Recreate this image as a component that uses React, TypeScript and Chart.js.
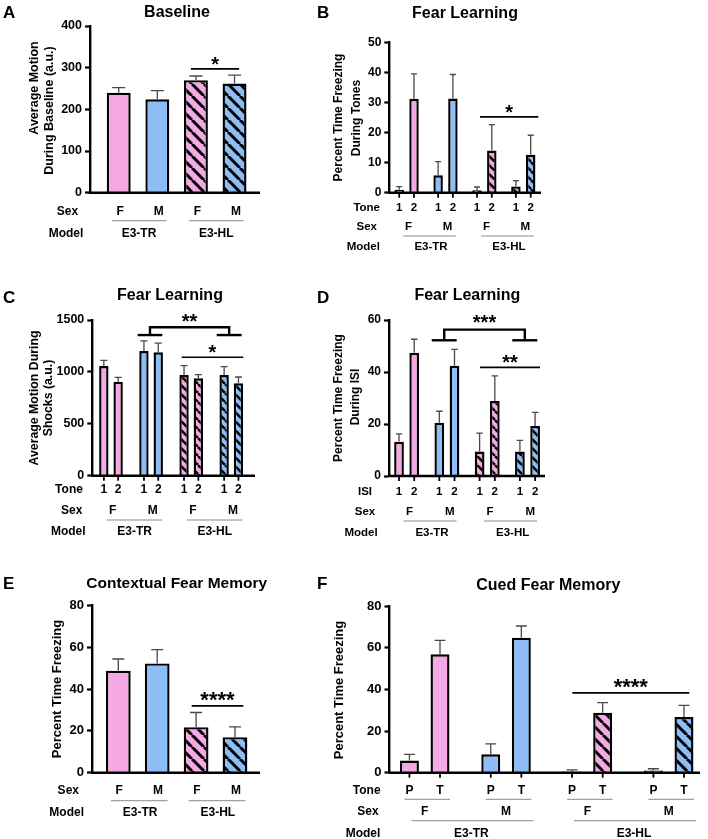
import React, { useEffect, useRef } from "react";
import { Chart, registerables } from "chart.js";
Chart.register(...registerables);

const FONT = '"Liberation Sans", Arial, Helvetica, sans-serif';
const PINK = "#F4A9E4";
const BLUE = "#8DBDF5";
const ERR = "#4a4a4a";
const RULE = "#8a8a8a";

// ---------- categories / labels ----------
const sexLabels = ["F", "M", "F", "M"];
const modelLabels = ["E3-TR", "E3-HL"];
const toneLabels = ["1", "2"];
const isiLabels = ["1", "2"];
const cueLabels = ["P", "T"];

// ---------- A: baseline motion ----------
const baselineMean = [240, 224, 270, 262];
const baselineSem = [12, 21, 10, 20];

// ---------- B: freezing during tones ----------
const toneFreeze1Mean = [1.0, 5.8, 0.8, 2.1];
const toneFreeze1Sem = [1.0, 4.5, 1.1, 1.9];
const toneFreeze2Mean = [31.2, 31.3, 14.0, 12.6];
const toneFreeze2Sem = [8.3, 8.0, 8.6, 6.5];

// ---------- C: motion during shocks ----------
const shockMotion1Mean = [1057, 1201, 970, 970];
const shockMotion1Sem = [54, 97, 90, 80];
const shockMotion2Mean = [906, 1189, 938, 890];
const shockMotion2Sem = [42, 89, 35, 61];

// ---------- D: freezing during ISI ----------
const isiFreeze1Mean = [13.2, 20.5, 9.4, 9.4];
const isiFreeze1Sem = [3.0, 4.4, 7.1, 4.3];
const isiFreeze2Mean = [47.4, 42.4, 28.8, 19.2];
const isiFreeze2Sem = [5.2, 6.3, 9.7, 5.3];

// ---------- E: contextual fear memory ----------
const contextMean = [48.8, 52.3, 21.8, 17.0];
const contextSem = [5.6, 6.6, 7.0, 4.9];

// ---------- F: cued fear memory ----------
const cuedPreMean = [5.8, 8.8, 0.6, 1.0];
const cuedPreSem = [3.0, 5.0, 0.8, 0.9];
const cuedToneMean = [56.8, 64.8, 28.8, 26.7];
const cuedToneSem = [6.7, 5.6, 4.8, 5.6];

type Box = { x: number; y: number; w: number; h: number };
type Series = { name: string; mean: number[]; sem: number[] };
type Sig =
  | { kind: "line"; x1: number; x2: number; y: number; text: string; size: number; gap: number; lw: number }
  | {
      kind: "bracket";
      a1: number; a2: number; b1: number; b2: number;
      y1: number; y2: number; text: string; size: number; gap: number; lw: number;
    };

type Spec = {
  box: Box;
  area: { l: number; t: number; r: number; b: number };
  xMin: number; xMax: number;
  yMax: number; yStep: number;
  series: Series[];
  cp: number; bp: number;
  hatch: number; hatchW: number;
  cap: number;
  letter: { text: string; x: number; y: number };
  title: { text: string; x: number; y: number; size: number };
  yTitle: { lines: string[]; xs: number[]; ys: number[]; size: number };
  tickSize: number;
  tableSize: number;
  xTicks: boolean;
  barRow?: { labels: string[]; dy: number };
  groupLine?: { dy: number; l0: number; l1: number };
  sexRow: { dy: number; dx: number };
  modelLine: { dy: number; l0: number; l1: number };
  modelRow: { dy: number; dx: number };
  headers: { text: string; x: number; dy: number }[];
  sigs: Sig[];
};

const panels: Spec[] = [
  {
    box: { x: 0, y: 0, w: 315, h: 285 },
    area: { l: 90, t: 26, r: 260, b: 192.7 },
    xMin: -0.744, xMax: 3.66, yMax: 400, yStep: 100,
    series: [{ name: "Baseline", mean: baselineMean, sem: baselineSem }],
    cp: 1, bp: 0.62, hatch: 12, hatchW: 3, cap: 13,
    letter: { text: "A", x: 3, y: 18.3 },
    title: { text: "Baseline", x: 177, y: 17, size: 16 },
    yTitle: { lines: ["Average Motion", "During Baseline (a.u.)"], xs: [34, 49], ys: [88, 110.5], size: 12.5 },
    tickSize: 12.5, tableSize: 12, xTicks: false,
    sexRow: { dy: 18, dx: 1.5 },
    modelLine: { dy: 28, l0: -7, l1: 9 },
    modelRow: { dy: 39.6, dx: 0 },
    headers: [{ text: "Sex", x: 67.5, dy: 18 }, { text: "Model", x: 66, dy: 39.6 }],
    sigs: [{ kind: "line", x1: 1.87, x2: 3.12, y: 297, text: "*", size: 20, gap: 9, lw: 1.7 }],
  },
  {
    box: { x: 315, y: 0, w: 393, h: 285 },
    area: { l: 389.3, t: 42.3, r: 541, b: 192.7 },
    xMin: -0.445, xMax: 3.455, yMax: 50, yStep: 10,
    series: [
      { name: "Tone 1", mean: toneFreeze1Mean, sem: toneFreeze1Sem },
      { name: "Tone 2", mean: toneFreeze2Mean, sem: toneFreeze2Sem },
    ],
    cp: 0.761, bp: 0.64, hatch: 9, hatchW: 2.5, cap: 6,
    letter: { text: "B", x: 317, y: 18.3 },
    title: { text: "Fear Learning", x: 465, y: 18, size: 16 },
    yTitle: { lines: ["Percent Time Freezing", "During Tones"], xs: [338, 356], ys: [117.5, 118], size: 12 },
    tickSize: 12, tableSize: 11.5, xTicks: true,
    barRow: { labels: toneLabels, dy: 14 },
    sexRow: { dy: 33.3, dx: 2 },
    modelLine: { dy: 43.3, l0: 4, l1: 3 },
    modelRow: { dy: 53.3, dx: 1.5 },
    headers: [
      { text: "Tone", x: 366.7, dy: 14 },
      { text: "Sex", x: 366.7, dy: 33.3 },
      { text: "Model", x: 363.3, dy: 53.3 },
    ],
    sigs: [{ kind: "line", x1: 1.887, x2: 3.386, y: 25.2, text: "*", size: 20, gap: 9.6, lw: 1.7 }],
  },
  {
    box: { x: 0, y: 285, w: 315, h: 270 },
    area: { l: 92.3, t: 320, r: 255, b: 475.7 },
    xMin: -0.466, xMax: 3.591, yMax: 1500, yStep: 500,
    series: [
      { name: "Tone 1", mean: shockMotion1Mean, sem: shockMotion1Sem },
      { name: "Tone 2", mean: shockMotion2Mean, sem: shockMotion2Sem },
    ],
    cp: 0.713, bp: 0.657, hatch: 9, hatchW: 2.5, cap: 7,
    letter: { text: "C", x: 3, y: 303.3 },
    title: { text: "Fear Learning", x: 170, y: 300, size: 16 },
    yTitle: { lines: ["Average Motion During", "Shocks (a.u.)"], xs: [34, 48], ys: [398, 398], size: 12.3 },
    tickSize: 12.5, tableSize: 12, xTicks: true,
    barRow: { labels: toneLabels, dy: 13.3 },
    sexRow: { dy: 34.3, dx: 1.7 },
    modelLine: { dy: 44.3, l0: 3, l1: 4 },
    modelRow: { dy: 55.3, dx: 0 },
    headers: [
      { text: "Tone", x: 69, dy: 13.3 },
      { text: "Sex", x: 71.7, dy: 34.3 },
      { text: "Model", x: 68.3, dy: 55.3 },
    ],
    sigs: [
      { kind: "bracket", a1: 0.666, a2: 1.279, b1: 2.636, b2: 3.259, y1: 1355, y2: 1430, text: "**", size: 20, gap: 10.6, lw: 2.4 },
      { kind: "line", x1: 1.763, x2: 3.299, y: 1141, text: "*", size: 20, gap: 9.3, lw: 1.7 },
    ],
  },
  {
    box: { x: 315, y: 285, w: 393, h: 270 },
    area: { l: 389, t: 320, r: 545, b: 476 },
    xMin: -0.437, xMax: 3.434, yMax: 60, yStep: 20,
    series: [
      { name: "ISI 1", mean: isiFreeze1Mean, sem: isiFreeze1Sem },
      { name: "ISI 2", mean: isiFreeze2Mean, sem: isiFreeze2Sem },
    ],
    cp: 0.754, bp: 0.64, hatch: 9, hatchW: 2.5, cap: 6.5,
    letter: { text: "D", x: 317, y: 303.3 },
    title: { text: "Fear Learning", x: 467.3, y: 300, size: 16 },
    yTitle: { lines: ["Percent Time Freezing", "During ISI"], xs: [338, 355], ys: [398, 397], size: 12 },
    tickSize: 12, tableSize: 11.5, xTicks: true,
    barRow: { labels: isiLabels, dy: 15 },
    sexRow: { dy: 35, dx: 2.8 },
    modelLine: { dy: 45, l0: 4.5, l1: 2 },
    modelRow: { dy: 55.7, dx: 2 },
    headers: [
      { text: "ISI", x: 365, dy: 15 },
      { text: "Sex", x: 365, dy: 35 },
      { text: "Model", x: 361, dy: 55.7 },
    ],
    sigs: [
      { kind: "bracket", a1: 0.623, a2: 1.243, b1: 2.623, b2: 3.243, y1: 52.2, y2: 56.3, text: "***", size: 20, gap: 11.7, lw: 2.4 },
      { kind: "line", x1: 1.821, x2: 3.31, y: 41.8, text: "**", size: 20, gap: 9.6, lw: 1.7 },
    ],
  },
  {
    box: { x: 0, y: 555, w: 315, h: 284 },
    area: { l: 92, t: 605.5, r: 260, b: 772.7 },
    xMin: -0.676, xMax: 3.643, yMax: 80, yStep: 20,
    series: [{ name: "Context", mean: contextMean, sem: contextSem }],
    cp: 1, bp: 0.637, hatch: 12, hatchW: 3, cap: 12,
    letter: { text: "E", x: 3, y: 589 },
    title: { text: "Contextual Fear Memory", x: 176.7, y: 588, size: 15.5 },
    yTitle: { lines: ["Percent Time Freezing"], xs: [56.7], ys: [689], size: 13 },
    tickSize: 13, tableSize: 12, xTicks: false,
    sexRow: { dy: 17.3, dx: 0.9 },
    modelLine: { dy: 28, l0: -7.4, l1: 10.4 },
    modelRow: { dy: 39, dx: 0.8 },
    headers: [{ text: "Sex", x: 68.3, dy: 17.3 }, { text: "Model", x: 66.7, dy: 39 }],
    sigs: [{ kind: "line", x1: 1.887, x2: 3.213, y: 32.0, text: "****", size: 22, gap: 11, lw: 1.7 }],
  },
  {
    box: { x: 315, y: 555, w: 393, h: 284 },
    area: { l: 389.5, t: 606, r: 700, b: 772.7 },
    xMin: -0.433, xMax: 3.385, yMax: 80, yStep: 20,
    series: [
      { name: "Pre-tone", mean: cuedPreMean, sem: cuedPreSem },
      { name: "Tone", mean: cuedToneMean, sem: cuedToneSem },
    ],
    cp: 0.752, bp: 0.62, hatch: 12, hatchW: 3, cap: 11,
    letter: { text: "F", x: 317, y: 589 },
    title: { text: "Cued Fear Memory", x: 548.3, y: 590, size: 16 },
    yTitle: { lines: ["Percent Time Freezing"], xs: [338], ys: [690], size: 13 },
    tickSize: 13, tableSize: 12, xTicks: true,
    barRow: { labels: cueLabels, dy: 16.6 },
    groupLine: { dy: 26.6, l0: -5, l1: 10 },
    sexRow: { dy: 38, dx: 0 },
    modelLine: { dy: 48, l0: 2, l1: 12 },
    modelRow: { dy: 60, dx: -1 },
    headers: [
      { text: "Tone", x: 366.7, dy: 16.6 },
      { text: "Sex", x: 368, dy: 38 },
      { text: "Model", x: 363, dy: 60 },
    ],
    sigs: [{ kind: "line", x1: 1.815, x2: 3.253, y: 38.3, text: "****", size: 22, gap: 11.3, lw: 1.7 }],
  },
];

function makeHatch(color: string, size: number, lw: number): CanvasPattern | string {
  const c = document.createElement("canvas");
  c.width = size;
  c.height = size;
  const g = c.getContext("2d");
  if (!g) return color;
  g.fillStyle = color;
  g.fillRect(0, 0, size, size);
  g.strokeStyle = "#000";
  g.lineWidth = lw;
  g.beginPath();
  for (let k = -1; k <= 1; k++) {
    g.moveTo(k * size, 0);
    g.lineTo(k * size + size, size);
  }
  g.stroke();
  return g.createPattern(c, "repeat") || color;
}

function makeDecor(spec: Spec) {
  const ox = spec.box.x;
  const oy = spec.box.y;
  const text = (
    ctx: CanvasRenderingContext2D,
    s: string,
    x: number,
    yCenter: number,
    size: number,
    align: CanvasTextAlign = "center"
  ) => {
    ctx.font = `bold ${size}px ${FONT}`;
    ctx.textAlign = align;
    ctx.textBaseline = "alphabetic";
    ctx.fillStyle = "#000";
    ctx.fillText(s, x, yCenter + 0.358 * size);
  };
  const stars = (ctx: CanvasRenderingContext2D, s: string, cx: number, lineY: number, size: number, gap: number) => {
    ctx.font = `bold ${size}px ${FONT}`;
    ctx.textAlign = "center";
    ctx.textBaseline = "alphabetic";
    ctx.fillStyle = "#000";
    ctx.fillText(s, cx, lineY - gap + 0.575 * size);
  };
  const hline = (ctx: CanvasRenderingContext2D, x1: number, x2: number, y: number, lw: number, color: string) => {
    ctx.strokeStyle = color;
    ctx.lineWidth = lw;
    ctx.beginPath();
    ctx.moveTo(x1, y);
    ctx.lineTo(x2, y);
    ctx.stroke();
  };

  return {
    id: "decor" + spec.letter.text,
    afterDatasetsDraw(chart: any) {
      const ctx: CanvasRenderingContext2D = chart.ctx;
      const xs = chart.scales.x;
      const ys = chart.scales.y;
      const ca = chart.chartArea;
      ctx.save();
      // error bars (SEM, upward only)
      ctx.strokeStyle = ERR;
      ctx.lineWidth = 1.3;
      spec.series.forEach((s, si) => {
        const meta = chart.getDatasetMeta(si);
        meta.data.forEach((bar: any, i: number) => {
          const x = bar.x;
          const y0 = ys.getPixelForValue(s.mean[i]);
          const y1 = ys.getPixelForValue(s.mean[i] + s.sem[i]);
          ctx.beginPath();
          ctx.moveTo(x, y0);
          ctx.lineTo(x, y1);
          ctx.moveTo(x - spec.cap / 2, y1);
          ctx.lineTo(x + spec.cap / 2, y1);
          ctx.stroke();
        });
      });
      // x axis line
      hline(ctx, ca.left - 1.2, ca.right, ys.getPixelForValue(0), 2.4, "#000");
      // x tick marks under each bar
      if (spec.xTicks) {
        ctx.strokeStyle = "#000";
        ctx.lineWidth = 1.8;
        spec.series.forEach((_s, si) => {
          chart.getDatasetMeta(si).data.forEach((bar: any) => {
            ctx.beginPath();
            ctx.moveTo(bar.x, ca.bottom);
            ctx.lineTo(bar.x, ca.bottom + 5);
            ctx.stroke();
          });
        });
      }
      // significance annotations
      spec.sigs.forEach((g) => {
        if (g.kind === "line") {
          const y = ys.getPixelForValue(g.y);
          const x1 = xs.getPixelForValue(g.x1);
          const x2 = xs.getPixelForValue(g.x2);
          hline(ctx, x1, x2, y, g.lw, "#000");
          stars(ctx, g.text, (x1 + x2) / 2, y, g.size, g.gap);
        } else {
          const y1 = ys.getPixelForValue(g.y1);
          const y2 = ys.getPixelForValue(g.y2);
          const a1 = xs.getPixelForValue(g.a1);
          const a2 = xs.getPixelForValue(g.a2);
          const b1 = xs.getPixelForValue(g.b1);
          const b2 = xs.getPixelForValue(g.b2);
          const am = (a1 + a2) / 2;
          const bm = (b1 + b2) / 2;
          hline(ctx, a1, a2, y1, g.lw, "#000");
          hline(ctx, b1, b2, y1, g.lw, "#000");
          ctx.beginPath();
          ctx.moveTo(am, y1);
          ctx.lineTo(am, y2);
          ctx.lineTo(bm, y2);
          ctx.lineTo(bm, y1);
          ctx.stroke();
          stars(ctx, g.text, (am + bm) / 2, y2, g.size, g.gap);
        }
      });
      ctx.restore();
    },
    afterDraw(chart: any) {
      const ctx: CanvasRenderingContext2D = chart.ctx;
      const ys = chart.scales.y;
      const axisY = ys.getPixelForValue(0);
      const n = spec.series.length;
      const first = chart.getDatasetMeta(0).data;
      const last = chart.getDatasetMeta(n - 1).data;
      ctx.save();
      // panel letter
      ctx.font = `bold 17px ${FONT}`;
      ctx.textAlign = "left";
      ctx.textBaseline = "alphabetic";
      ctx.fillStyle = "#000";
      ctx.fillText(spec.letter.text, spec.letter.x - ox, spec.letter.y - oy);
      // title
      ctx.font = `bold ${spec.title.size}px ${FONT}`;
      ctx.textAlign = "center";
      ctx.fillText(spec.title.text, spec.title.x - ox, spec.title.y - oy);
      // y title (rotated)
      spec.yTitle.lines.forEach((line, li) => {
        ctx.save();
        ctx.translate(spec.yTitle.xs[li] - ox, spec.yTitle.ys[li] - oy);
        ctx.rotate(-Math.PI / 2);
        ctx.font = `bold ${spec.yTitle.size}px ${FONT}`;
        ctx.textAlign = "center";
        ctx.textBaseline = "alphabetic";
        ctx.fillText(line, 0, 0.358 * spec.yTitle.size);
        ctx.restore();
      });
      const ts = spec.tableSize;
      // row headers
      spec.headers.forEach((h) => text(ctx, h.text, h.x - ox, axisY + h.dy, ts));
      // per-bar labels
      if (spec.barRow) {
        spec.series.forEach((_s, si) => {
          chart.getDatasetMeta(si).data.forEach((bar: any) => {
            text(ctx, spec.barRow!.labels[si], bar.x, axisY + spec.barRow!.dy, ts);
          });
        });
      }
      // per-group lines (under tone pairs)
      if (spec.groupLine) {
        const gl = spec.groupLine;
        first.forEach((_b: any, gi: number) => {
          hline(ctx, first[gi].x + gl.l0, last[gi].x + gl.l1, axisY + gl.dy, 1, RULE);
        });
      }
      // sex row
      sexLabels.forEach((s, gi) => {
        const cx = (first[gi].x + last[gi].x) / 2 + spec.sexRow.dx;
        text(ctx, s, cx, axisY + spec.sexRow.dy, ts);
      });
      // model lines + labels
      modelLabels.forEach((m, mi) => {
        const x1 = first[2 * mi].x + spec.modelLine.l0;
        const x2 = last[2 * mi + 1].x + spec.modelLine.l1;
        hline(ctx, x1, x2, axisY + spec.modelLine.dy, 1, RULE);
        text(ctx, m, (x1 + x2) / 2 + spec.modelRow.dx, axisY + spec.modelRow.dy, ts);
      });
      ctx.restore();
    },
  };
}

function Panel({ spec }: { spec: Spec }) {
  const ref = useRef<HTMLCanvasElement>(null);
  useEffect(() => {
    const canvas = ref.current;
    if (!canvas) return;
    const hp = makeHatch(PINK, spec.hatch, spec.hatchW);
    const hb = makeHatch(BLUE, spec.hatch, spec.hatchW);
    const fills = [PINK, BLUE, hp, hb];
    const { box, area } = spec;
    const YW = 40;
    const chart = new Chart(canvas, {
      type: "bar",
      data: {
        datasets: spec.series.map((s) => ({
          label: s.name,
          data: s.mean.map((v, i) => ({ x: i, y: v })),
          backgroundColor: fills as any,
          borderColor: "#000",
          borderWidth: 2.4,
          categoryPercentage: spec.cp,
          barPercentage: spec.bp,
        })),
      },
      options: {
        animation: false,
        responsive: false,
        devicePixelRatio: 1,
        layout: {
          padding: {
            left: area.l - box.x - YW,
            top: area.t - box.y,
            right: box.x + box.w - area.r,
            bottom: box.y + box.h - area.b,
          },
        },
        plugins: {
          legend: { display: false },
          tooltip: { enabled: false },
          title: { display: false },
        },
        scales: {
          x: {
            type: "linear",
            min: spec.xMin,
            max: spec.xMax,
            display: false,
            offset: false,
            ticks: { stepSize: 1 },
            grid: { display: false },
          },
          y: {
            min: 0,
            max: spec.yMax,
            ticks: {
              stepSize: spec.yStep,
              color: "#000",
              padding: 3,
              font: { family: FONT, size: spec.tickSize, weight: "bold" },
              callback: (v: any) => String(v),
            },
            grid: {
              drawOnChartArea: false,
              drawTicks: true,
              tickLength: 5,
              tickWidth: 2.2,
              tickColor: "#000",
            },
            border: { display: true, color: "#000", width: 2.4 },
            afterFit: (s: any) => {
              s.width = YW;
            },
          },
        },
      } as any,
      plugins: [makeDecor(spec)],
    });
    return () => chart.destroy();
  }, [spec]);
  return (
    <canvas
      ref={ref}
      width={spec.box.w}
      height={spec.box.h}
      style={{
        position: "absolute",
        left: spec.box.x,
        top: spec.box.y,
        width: spec.box.w,
        height: spec.box.h,
      }}
    />
  );
}

export default function App() {
  return (
    <div
      style={{
        position: "absolute",
        left: 0,
        top: 0,
        width: 708,
        height: 839,
        background: "#fff",
        overflow: "hidden",
      }}
    >
      {panels.map((p) => (
        <Panel key={p.letter.text} spec={p} />
      ))}
    </div>
  );
}
